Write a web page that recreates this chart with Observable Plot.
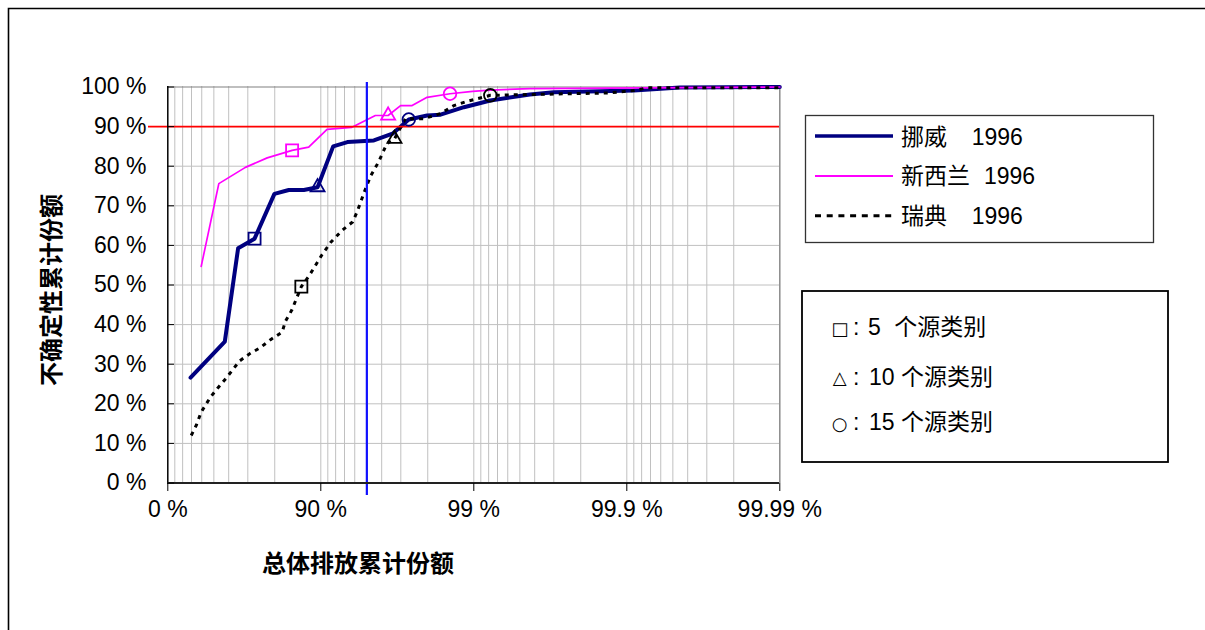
<!DOCTYPE html>
<html><head><meta charset="utf-8">
<script src="https://cdn.jsdelivr.net/npm/d3@7"></script>
<script src="https://cdn.jsdelivr.net/npm/@observablehq/plot@0.6"></script>
<style>
body{margin:0;background:#fff;}
#chart{position:relative;width:1205px;height:630px;overflow:hidden;}
</style></head><body><div id="chart"></div>
<script>
// ---- data (cumulative share of total emissions %, cumulative share of uncertainty %) ----
const norwayX = [29.0, 57.6, 65.3, 72.9, 79.9, 83.8, 87.1, 89.5, 91.7, 93.3, 95.5, 96.6, 97.34, 97.98, 98.35, 98.84, 99.22, 99.57, 99.70, 99.91, 99.955, 99.99];
const norwayY = [26.6, 35.7, 59.3, 61.7, 73.0, 74.0, 74.0, 74.7, 85.0, 86.1, 86.5, 88.2, 91.8, 92.8, 93.0, 94.9, 96.6, 98.1, 98.7, 99.1, 99.9, 100];
const nzX = [39.5, 53.6, 68.9, 77.6, 84.6, 88.0, 90.9, 93.7, 95.6, 96.37, 96.99, 97.47, 97.98, 98.57, 98.98, 99.22, 99.57, 99.99];
const nzY = [54.7, 75.6, 79.7, 82.1, 84.0, 84.8, 89.3, 89.8, 92.8, 92.8, 95.3, 95.3, 97.4, 98.3, 98.9, 99.2, 99.6, 100];
const swedenX = [29.7, 35.1, 39.5, 47.4, 52.9, 58.5, 66.0, 71.2, 75.0, 78.7, 82.1, 83.0, 84.5, 86.6, 88.1, 90.2, 91.4, 92.75, 93.8, 94.2, 94.9, 95.3, 95.8, 96.3, 96.7, 97.2, 97.88, 98.35, 98.65, 98.90, 99.22, 99.57, 99.87, 99.91, 99.927, 99.99];
const swedenY = [12.0, 14.7, 17.9, 21.7, 24.0, 26.5, 30.8, 32.8, 34.1, 36.2, 38.1, 40.9, 43.6, 49.6, 52.4, 57.7, 60.8, 63.8, 65.9, 68.4, 74.3, 77.7, 81.0, 85.7, 86.9, 92.0, 92.0, 93.3, 95.3, 96.4, 97.9, 98.1, 98.5, 99.1, 99.8, 99.8];
// markers: 5, 10, 15 source categories
const markerSymbols = ["square", "triangle", "circle"];
const norwayMarkX = [72.9, 89.5, 97.34];
const norwayMarkY = [61.7, 74.7, 91.8];
const nzMarkX = [84.6, 96.37, 98.57];
const nzMarkY = [84.0, 92.8, 98.3];
const swedenMarkX = [86.6, 96.7, 99.22];
const swedenMarkY = [49.6, 86.9, 97.9];
const seriesNames = ["挪威", "新西兰", "瑞典"];
const seriesYear = "1996";
const yTicks = [0, 10, 20, 30, 40, 50, 60, 70, 80, 90, 100];
const xTickPct = [0, 90, 99, 99.9, 99.99];
const xTickLabels = ["0 %", "90 %", "99 %", "99.9 %", "99.99 %"];
const threshY = 90;   // red line
const threshX = 95;   // blue line
const markerGlyphs = ["□", "△", "○"];
const markerCounts = ["5", "10", "15"];
const markerLegendText = "个源类别";
const yTitle = "不确定性累计份额";
const xTitle = "总体排放累计份额";

// ---- scale transform: -log10(1 - p) ----
const T = p => -Math.log10(1 - p / 100);
// log-scale minor grid positions within each decade
const xGridPct = [];
for (let k = 0; k < 4; k++) for (let m = 9; m >= 1; m--) xGridPct.push(100 * (1 - m * Math.pow(10, -(k + 1))));

const toPts = (xs, ys) => xs.map((x, i) => ({x, y: ys[i]}));
const series = [
  {pts: toPts(norwayX, norwayY), mk: toPts(norwayMarkX, norwayMarkY), color: "#000080", width: 4, dash: null},
  {pts: toPts(nzX, nzY), mk: toPts(nzMarkX, nzMarkY), color: "#ff00ff", width: 1.7, dash: null},
  {pts: toPts(swedenX, swedenY), mk: toPts(swedenMarkX, swedenMarkY), color: "#000000", width: 3, dash: "4,5"}
];
const symR = {square: 6.8, triangle: 5.2, circle: 6.3};

const W = 1205, H = 630;
const marks = [
  Plot.ruleY(yTicks.slice(1, -1), {y: d => d, stroke: "#c0c0c0", strokeWidth: 1}),
  Plot.ruleX(xGridPct, {x: T, stroke: "#c0c0c0", strokeWidth: 1}),
  Plot.ruleY([100], {stroke: "#808080", strokeWidth: 1.2}),
  Plot.ruleX([99.99], {x: T, stroke: "#808080", strokeWidth: 1.2}),
];
for (const s of series) {
  marks.push(Plot.line(s.pts, {x: d => T(d.x), y: "y", stroke: s.color, strokeWidth: s.width,
    strokeDasharray: s.dash, strokeLinecap: s.dash ? "butt" : "round", strokeLinejoin: "round"}));
}
marks.push(Plot.ruleY([threshY], {stroke: "#ff0000", strokeWidth: 1.8, insetLeft: -19}));
marks.push(Plot.ruleX([threshX], {x: T, stroke: "#1010ff", strokeWidth: 2.2, insetTop: -4, insetBottom: -12}));
for (const s of series) {
  s.mk.forEach((d, i) => {
    const sym = markerSymbols[i];
    marks.push(Plot.dot([d], {x: d => T(d.x), y: "y", symbol: sym, r: symR[sym], stroke: s.color, fill: "none", strokeWidth: 1.8}));
  });
}
marks.push(
  Plot.ruleX([0], {x: T, stroke: "#000", strokeWidth: 1.5}),
  Plot.ruleY([0], {stroke: "#222", strokeWidth: 2}),
  Plot.axisY({ticks: yTicks, tickFormat: d => d + " %", tickSize: 0, tickPadding: 21, fontSize: 23, label: null}),
  Plot.axisY({ticks: yTicks, tickFormat: () => "", tickSize: 7, dx: 7, label: null}),
  Plot.axisX({ticks: xTickPct.map(T), tickFormat: d => xTickLabels[xTickPct.map(T).findIndex(v => Math.abs(v - d) < 1e-9)], tickSize: 8, tickPadding: 9, fontSize: 23, label: null})
);

const plot = Plot.plot({
  width: W, height: H,
  marginLeft: 167, marginRight: W - 779, marginTop: 86, marginBottom: H - 483,
  x: {type: "linear", domain: [0, 4], range: [167.3, 779.3]},
  y: {type: "linear", domain: [0, 100], range: [482.5, 86.5]},
  style: {fontFamily: "'Liberation Sans', Arial, sans-serif", fontSize: "23px", color: "#000", background: "#fff", overflow: "visible"},
  marks
});
document.getElementById("chart").appendChild(plot);

// ---- decorations: outer border, titles, legends ----
const svg = d3.select(plot);
const g = svg.append("g").attr("text-anchor", "start");
g.append("path").attr("d", "M8.5,1300 V8.5 H1300").attr("fill", "none").attr("stroke", "#000").attr("stroke-width", 1.6);
const cjk = "'Noto Sans CJK SC', sans-serif";
const lat = "'Liberation Sans', Arial, sans-serif";
g.append("text").text(yTitle).attr("transform", "translate(49,290) rotate(-90)")
  .attr("text-anchor", "middle").attr("dominant-baseline", "central")
  .attr("font-family", cjk).attr("font-weight", "bold").attr("font-size", 24).attr("fill", "#000");
g.append("text").text(xTitle).attr("x", 358).attr("y", 561)
  .attr("text-anchor", "middle").attr("dominant-baseline", "central")
  .attr("font-family", cjk).attr("font-weight", "bold").attr("font-size", 24).attr("fill", "#000");

// legend 1
g.append("rect").attr("x", 805.5).attr("y", 115.5).attr("width", 348).attr("height", 127)
  .attr("fill", "#fff").attr("stroke", "#333").attr("stroke-width", 1.3);
const l1y = [136, 176, 215.7], l1base = [145, 184, 224], yearX = [971.7, 984, 971.7];
series.forEach((s, i) => {
  g.append("line").attr("x1", 815).attr("x2", 893).attr("y1", l1y[i]).attr("y2", l1y[i])
    .attr("stroke", s.color).attr("stroke-width", i === 0 ? 3.5 : (i === 1 ? 2 : 3))
    .attr("stroke-dasharray", s.dash ? "6,5.7" : null);
  g.append("text").text(seriesNames[i]).attr("x", 901).attr("y", l1base[i]).attr("text-anchor", "start")
    .attr("font-family", cjk).attr("font-size", 23).attr("fill", "#000");
  g.append("text").text(seriesYear).attr("x", yearX[i]).attr("y", l1base[i]).attr("text-anchor", "start")
    .attr("font-family", lat).attr("font-size", 23).attr("fill", "#000");
});

// legend 2
g.append("rect").attr("x", 802).attr("y", 291).attr("width", 366).attr("height", 171)
  .attr("fill", "#fff").attr("stroke", "#000").attr("stroke-width", 1.8);
const l2base = [335, 384.5, 430], numX = [868, 869, 869], cjkX = [894.3, 901, 901];
markerGlyphs.forEach((gl, i) => {
  g.append("text").text(gl).attr("x", 839.7).attr("y", l2base[i] - 0.5)
    .attr("text-anchor", "middle").attr("font-family", "'DejaVu Sans', sans-serif").attr("font-size", 18)
    .attr("font-weight", "bold").attr("fill", "#000");
  g.append("text").text(":").attr("x", 853).attr("y", l2base[i]).attr("text-anchor", "start")
    .attr("font-family", lat).attr("font-size", 23).attr("fill", "#000");
  g.append("text").text(markerCounts[i]).attr("x", numX[i]).attr("y", l2base[i]).attr("text-anchor", "start")
    .attr("font-family", lat).attr("font-size", 23).attr("fill", "#000");
  g.append("text").text(markerLegendText).attr("x", cjkX[i]).attr("y", l2base[i]).attr("text-anchor", "start")
    .attr("font-family", cjk).attr("font-size", 23).attr("fill", "#000");
});
</script></body></html>
